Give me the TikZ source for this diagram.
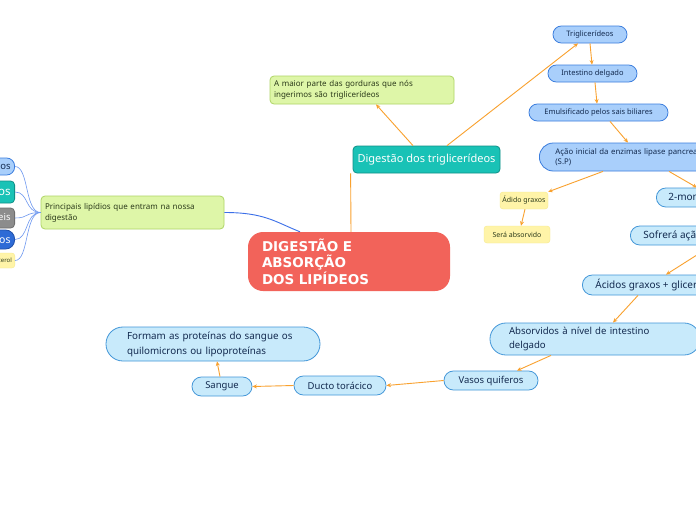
\documentclass[tikz,border=0pt]{standalone}
\usepackage{fontspec}
\setmainfont{Noto Sans}
\newfontfamily\verdfont{DejaVu Sans}
\usetikzlibrary{arrows.meta,calc}
\definecolor{salmon}{HTML}{F2635A}
\definecolor{orangeln}{HTML}{F9A12E}
\definecolor{blueln}{HTML}{3B6FE8}
\definecolor{bluelnlt}{HTML}{6E98F0}
\definecolor{lbFill}{HTML}{A9CFFB}
\definecolor{lbBorder}{HTML}{3B7DDD}
\definecolor{cyFill}{HTML}{C8EAFB}
\definecolor{cyBorder}{HTML}{4296D8}
\definecolor{tealFill}{HTML}{19C2B6}
\definecolor{tealBorder}{HTML}{0F8F87}
\definecolor{grFill}{HTML}{DEF6A8}
\definecolor{grBorder}{HTML}{AED465}
\definecolor{yeFill}{HTML}{FFF4A8}
\definecolor{yeBorder}{HTML}{F6E98E}
\definecolor{grayFill}{HTML}{8C8C8C}
\definecolor{grayBorder}{HTML}{6E6E6E}
\definecolor{dbFill}{HTML}{2E6BD6}
\definecolor{dbBorder}{HTML}{1F4FA8}
\definecolor{navy}{HTML}{132A4F}
\definecolor{darktext}{HTML}{2B3A1A}
\begin{document}
\begin{tikzpicture}[x=1pt,y=-1pt,
  oarr/.style={draw=orangeln, line width=0.9pt, -{Stealth[length=4.5pt,width=4pt]}},
  oline/.style={draw=orangeln, line width=0.9pt},
  bline/.style={draw=blueln, line width=0.9pt},
  blinelt/.style={draw=bluelnlt, line width=0.6pt},
  lb/.style={draw=lbBorder, fill=lbFill, text=navy, line width=0.8pt, inner sep=0pt, font=\fontsize{7.5}{9}\selectfont},
  cy/.style={draw=cyBorder, fill=cyFill, text=navy, line width=0.8pt, inner sep=0pt, font=\fontsize{9.5}{14}\selectfont},
  gr/.style={draw=grBorder, fill=grFill, text=darktext, line width=0.8pt, rounded corners=4pt, inner sep=0pt, align=left, font=\fontsize{8}{11}\selectfont},
  ye/.style={draw=yeBorder, fill=yeFill, text=darktext, line width=0.4pt, rounded corners=3pt, inner sep=0pt, font=\fontsize{7}{9}\selectfont},
  tl/.style={draw=tealBorder, fill=tealFill, text=white, line width=0.8pt, rounded corners=4pt, inner sep=0pt},
]
\useasboundingbox (0,0) rectangle (696,520);
\fill[white] (0,0) rectangle (696,520);
\clip (0,0) rectangle (696,520);

% central
\node[fill=salmon, rounded corners=15pt, minimum width=202pt, minimum height=59pt, inner xsep=14pt, inner ysep=0pt,
  text width=174pt, align=left, text=white, font=\verdfont\bfseries\fontsize{13.5}{16.5}\selectfont] (central) at (349,261.5)
  {DIGESTÃO E\\ABSORÇÃO\\DOS LIPÍDEOS};

% first level
\node[tl, minimum width=147pt, minimum height=27pt, font=\fontsize{11}{13}\selectfont] (digest) at (426.5,159.5) {Digestão dos triglicerídeos};
\node[gr, minimum width=184pt, minimum height=28pt, inner xsep=4pt, text width=176pt] (maior) at (362,90)
  {A maior parte das gorduras que nós\\ingerimos são triglicerídeos};
\node[gr, minimum width=183pt, minimum height=33pt, inner xsep=4pt, text width=175pt] (princ) at (132.5,212.5)
  {Principais lipídios que entram na nossa\\digestão};

% left partial nodes
\node[lb, anchor=east, minimum height=17pt, inner xsep=4pt, rounded corners=8pt, font=\fontsize{9.5}{11}\selectfont] (l1) at (15,166.5) {Triglicerídeos};
\node[tl, anchor=east, minimum height=22pt, inner xsep=4pt, font=\fontsize{11.5}{13}\selectfont] (l2) at (15,192) {Fosfolipídeos};
\node[draw=grayBorder, fill=grayFill, text=white, line width=0.8pt, rounded corners=4pt, inner sep=0pt, anchor=east, minimum height=20pt, inner xsep=4pt, font=\fontsize{9.5}{12}\selectfont] (l3) at (15,218) {Vitaminas lipossolúveis};
\node[draw=dbBorder, fill=dbFill, text=white, line width=0.8pt, rounded corners=9pt, inner sep=0pt, anchor=east, minimum height=19pt, inner xsep=4pt, font=\fontsize{10.5}{12}\selectfont] (l4) at (15,239.5) {Ácidos graxos};
\node[ye, anchor=east, minimum height=15pt, inner xsep=3pt, font=\fontsize{6}{8}\selectfont] (l5) at (15,260.5) {Colesterol};

% right chain
\node[lb, minimum width=74pt, minimum height=17pt, rounded corners=8.4pt] (trig) at (590,34.5) {Triglicerídeos};
\node[lb, minimum width=89pt, minimum height=17pt, rounded corners=8.4pt] (intest) at (592.5,73.5) {Intestino delgado};
\node[lb, minimum width=139pt, minimum height=17pt, rounded corners=8.4pt] (emuls) at (598.5,112.5) {Emulsificado pelos sais biliares};
\node[lb, anchor=west, minimum height=28pt, rounded corners=13.9pt, inner xsep=16pt, text width=180pt, align=left, font=\fontsize{7.8}{10}\selectfont] (acao) at (539,157)
  {Ação inicial da enzimas lipase pancreatica\\(S.P)};
\node[ye, minimum width=48pt, minimum height=17pt] (acido) at (524,200.5) {Ádido graxos};
\node[ye, minimum width=66pt, minimum height=17pt] (sera) at (517,234.5) {Será absorvido};
\node[cy, anchor=west, minimum height=19pt, inner xsep=12pt, rounded corners=9.4pt, font=\fontsize{10}{12}\selectfont] (mono) at (656,197.5) {2-monoglicerídeos};
\node[cy, anchor=west, minimum height=19pt, inner xsep=13pt, rounded corners=9.4pt, font=\fontsize{10}{12}\selectfont] (sofrera) at (630,235.5) {Sofrerá ação da lipase intestinal};
\node[cy, anchor=west, minimum height=20pt, inner xsep=13pt, rounded corners=9.9pt, font=\fontsize{10}{12}\selectfont] (acidosg) at (582,285) {Ácidos graxos + glicerol};
\node[cy, minimum width=210pt, minimum height=32pt, rounded corners=15.9pt, inner xsep=19pt, text width=172pt, align=left, font=\fontsize{9.6}{14}\selectfont] (absorv) at (595,339)
  {Absorvidos à nível de intestino\\delgado};
\node[cy, minimum width=94pt, minimum height=19pt, rounded corners=9.4pt] (vasos) at (491,380.5) {Vasos quiferos};
\node[cy, minimum width=92pt, minimum height=19pt, rounded corners=9.4pt] (ducto) at (340,385.5) {Ducto torácico};
\node[cy, minimum width=60pt, minimum height=19pt, rounded corners=9.4pt] (sangue) at (222,386.5) {Sangue};
\node[cy, minimum width=214pt, minimum height=34pt, rounded corners=16.9pt, inner xsep=21pt, text width=172pt, align=left, font=\fontsize{9.8}{15}\selectfont] (formam) at (213,344)
  {Formam as proteínas do sangue os\\quilomicrons ou lipoproteínas};

% connectors
\draw[bline] (princ.east) .. controls +(40,0) and +(-25,-10) .. ([xshift=-49pt]central.north);
\foreach \n in {l1,l2,l3,l4,l5}
  \draw[blinelt] (\n.east) .. controls +(14,0) and +(-16,0) .. (princ.west);
\draw[oline] ([xshift=2pt]central.north) -- ([xshift=-2pt]digest.south west);
\draw[oarr] ([xshift=-13.5pt]digest.north) -- ([xshift=14pt]maior.south);
\draw[oarr] ([xshift=20.5pt]digest.north) -- ([xshift=-12pt]trig.south);
\draw[oarr] (trig.south) -- ([xshift=-0.5pt]intest.north);
\draw[oarr] ([xshift=2.5pt]intest.south) -- ([xshift=-1.5pt]emuls.north);
\draw[oarr] ([xshift=11.5pt]emuls.south) -- ([xshift=89pt]acao.north west);
\draw[oarr] ([xshift=64pt]acao.south west) -- (acido.north east);
\draw[oarr] ([xshift=1pt]acido.south) -- ([xshift=4pt]sera.north);
\draw[oarr] ([xshift=130pt]acao.south west) -- ([xshift=41pt]mono.north west);
\draw[oarr] ([xshift=82pt]sofrera.south west) -- ([xshift=84pt]acidosg.north west);
\draw[oarr] ([xshift=56pt]acidosg.south west) -- ([xshift=18pt]absorv.north);
\draw[oarr] ([xshift=-44pt]absorv.south) -- ([xshift=26pt]vasos.north);
\draw[oarr] (vasos.west) -- (ducto.east);
\draw[oarr] (ducto.west) -- (sangue.east);
\draw[oarr] ([xshift=-2pt]sangue.north) -- ([xshift=4pt]formam.south);
\end{tikzpicture}
\end{document}
